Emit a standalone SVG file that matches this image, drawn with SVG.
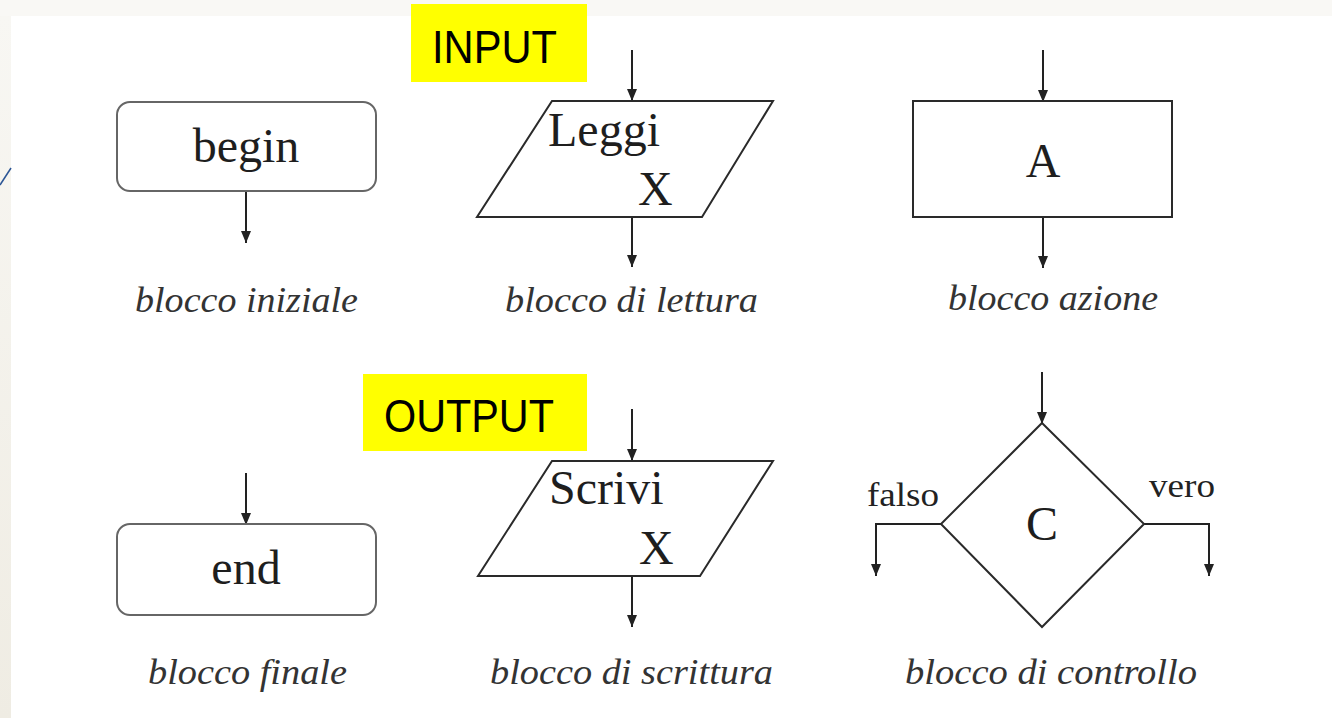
<svg xmlns="http://www.w3.org/2000/svg" width="1332" height="718" viewBox="0 0 1332 718">
<defs>
<linearGradient id="bg" x1="0" y1="0" x2="0" y2="1">
<stop offset="0" stop-color="#f8f7f3"/>
<stop offset="1" stop-color="#efece3"/>
</linearGradient>
<marker id="ah" viewBox="0 0 12 10" markerWidth="12" markerHeight="10" refX="12" refY="5" orient="auto" markerUnits="userSpaceOnUse">
<path d="M0,0 L12,5 L0,10 z" fill="#222"/>
</marker>
<style>
.shape{fill:#fff;stroke:#2a2a2a;stroke-width:2}
.round{fill:#fff;stroke:#666;stroke-width:2}
.conn{fill:none;stroke:#222;stroke-width:2;marker-end:url(#ah)}
.conn2{fill:none;stroke:#222;stroke-width:2}
.t{font-family:"Liberation Serif","Times New Roman",serif;fill:#1e1e1e;font-size:48px}
.lab{font-family:"Liberation Serif","Times New Roman",serif;font-style:italic;fill:#333;font-size:36px}
.small{font-family:"Liberation Serif","Times New Roman",serif;fill:#222;font-size:34px}
.tag{font-family:"Liberation Sans",Arial,sans-serif;fill:#000;font-size:47px}
.hl{fill:#ffff00}
</style>
</defs>
<rect x="0" y="0" width="1332" height="718" fill="#f9f8f5"/>
<rect x="0" y="16" width="11" height="702" fill="url(#bg)"/>
<rect x="11" y="16" width="1321" height="702" fill="#fff"/>
<line x1="0" y1="185" x2="11" y2="168" stroke="#2c5595" stroke-width="1.5"/>

<g id="connectors">
<line class="conn" x1="246" y1="191" x2="246" y2="243"/>
<line class="conn" x1="632" y1="50" x2="632" y2="101"/>
<line class="conn" x1="632" y1="217" x2="632" y2="267"/>
<line class="conn" x1="1043" y1="50" x2="1043" y2="102"/>
<line class="conn" x1="1043" y1="217" x2="1043" y2="268"/>
<line class="conn" x1="246" y1="473" x2="246" y2="525"/>
<line class="conn" x1="632" y1="409" x2="632" y2="461"/>
<line class="conn" x1="632" y1="576" x2="632" y2="627"/>
<line class="conn" x1="1042" y1="372" x2="1042" y2="424"/>
<polyline class="conn" points="941,524 876,524 876,576"/>
<polyline class="conn" points="1144,524 1209,524 1209,576"/>
</g>

<g id="input-tag">
<rect class="hl" x="411" y="4" width="176" height="78"/>
<text class="tag" x="432" y="63" textLength="125" lengthAdjust="spacingAndGlyphs">INPUT</text>
</g>
<g id="output-tag">
<rect class="hl" x="363" y="374" width="224" height="77"/>
<text class="tag" x="384" y="432" textLength="170" lengthAdjust="spacingAndGlyphs">OUTPUT</text>
</g>

<g id="begin">
<rect class="round" x="117" y="102" width="259" height="89" rx="13"/>
<text class="t" x="246" y="162" text-anchor="middle">begin</text>
<text class="lab" x="135" y="312" textLength="223" lengthAdjust="spacingAndGlyphs">blocco iniziale</text>
</g>

<g id="leggi">
<polygon class="shape" points="552,101 773,101 702,217 477,217"/>
<text class="t" x="548" y="146">Leggi</text>
<text class="t" x="638" y="205">X</text>
<text class="lab" x="505" y="312" textLength="253" lengthAdjust="spacingAndGlyphs">blocco di lettura</text>
</g>

<g id="azione">
<rect class="shape" x="913" y="101" width="259" height="116"/>
<text class="t" x="1043" y="177" text-anchor="middle">A</text>
<text class="lab" x="948" y="310" textLength="210" lengthAdjust="spacingAndGlyphs">blocco azione</text>
</g>

<g id="end">
<rect class="round" x="117" y="524" width="259" height="91" rx="13"/>
<text class="t" x="246" y="584" text-anchor="middle">end</text>
<text class="lab" x="148" y="684" textLength="199" lengthAdjust="spacingAndGlyphs">blocco finale</text>
</g>

<g id="scrivi">
<polygon class="shape" points="552,461 773,461 700,576 478,576"/>
<text class="t" x="549" y="504">Scrivi</text>
<text class="t" x="639" y="564">X</text>
<text class="lab" x="490" y="684" textLength="283" lengthAdjust="spacingAndGlyphs">blocco di scrittura</text>
</g>

<g id="controllo">
<polygon class="shape" points="1042,423 1144,524 1042,627 941,524"/>
<text class="t" x="1042" y="540" text-anchor="middle">C</text>
<text class="small" x="867" y="506" textLength="72" lengthAdjust="spacingAndGlyphs">falso</text>
<text class="small" x="1149" y="497" textLength="66" lengthAdjust="spacingAndGlyphs">vero</text>
<text class="lab" x="905" y="684" textLength="292" lengthAdjust="spacingAndGlyphs">blocco di controllo</text>
</g>
</svg>
